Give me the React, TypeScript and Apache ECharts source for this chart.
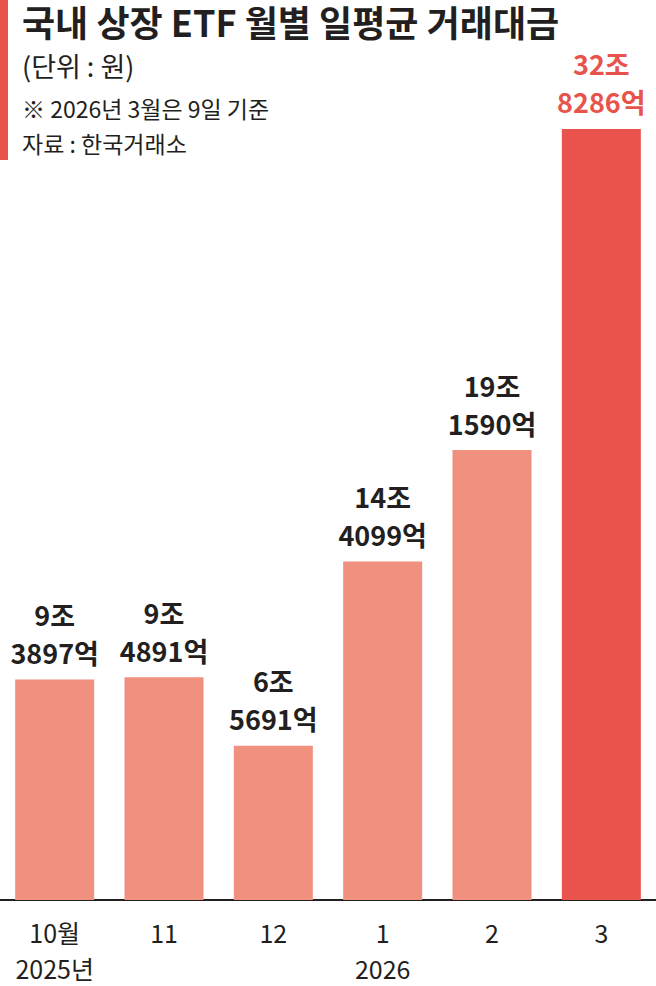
import React, { useEffect, useRef } from "react";
import * as echarts from "echarts";

const categories = ["10월\n2025년", "11", "12", "1\n2026", "2", "3"];
const joValues = [9, 9, 6, 14, 19, 32];
const eokValues = [3897, 4891, 5691, 4099, 1590, 8286];
const titleText = "국내 상장 ETF 월별 일평균 거래대금";
const unitText = "(단위 : 원)";
const noteText = "※ 2026년 3월은 9일 기준";
const sourceText = "자료 : 한국거래소";

const FONT = "'Noto Sans CJK KR', 'Noto Sans', sans-serif";
const LIGHT = "#F0907F";
const DARK = "#E8534B";

export default function App() {
  const ref = useRef<HTMLDivElement>(null);
  useEffect(() => {
    if (!ref.current) return;
    const chart = echarts.init(ref.current, undefined, { renderer: "svg" });
    const data = joValues.map((j, i) => {
      const last = i === joValues.length - 1;
      return {
        value: j + eokValues[i] / 10000,
        itemStyle: { color: last ? DARK : LIGHT },
        label: { color: last ? DARK : "#231f20" },
      };
    });
    chart.setOption({
      animation: false,
      textStyle: { fontFamily: FONT },
      grid: { left: 0, right: 0, top: 78, bottom: 81 },
      xAxis: {
        type: "category",
        data: categories,
        axisLine: { lineStyle: { color: "#231f20", width: 2 } },
        axisTick: { show: false },
        axisLabel: {
          fontSize: 25,
          color: "#231f20",
          lineHeight: 36,
          margin: 14,
          fontFamily: FONT,
          interval: 0,
        },
      },
      yAxis: {
        type: "value",
        min: 0,
        max: 35,
        show: false,
        splitLine: { show: false },
      },
      series: [
        {
          type: "bar",
          data,
          barWidth: 79,
          label: {
            show: true,
            position: "top",
            distance: 8,
            fontSize: 27,
            fontWeight: "bold",
            lineHeight: 38,
            fontFamily: FONT,
            formatter: (p: any) =>
              `${joValues[p.dataIndex]}조\n${eokValues[p.dataIndex]}억`,
          },
        },
      ],
      graphic: [
        {
          type: "rect",
          left: 0,
          top: 0,
          shape: { width: 8, height: 160 },
          style: { fill: DARK },
        },
        {
          type: "text",
          left: 22,
          top: 3,
          style: {
            text: titleText,
            font: `bold 36px ${FONT}`,
            fill: "#231f20",
          },
        },
        {
          type: "text",
          left: 22,
          top: 52,
          style: { text: unitText, font: `27px ${FONT}`, fill: "#231f20" },
        },
        {
          type: "text",
          left: 22,
          top: 96,
          style: { text: noteText, font: `23px ${FONT}`, fill: "#231f20" },
        },
        {
          type: "text",
          left: 22,
          top: 131,
          style: { text: sourceText, font: `23px ${FONT}`, fill: "#231f20" },
        },
      ],
    });
    return () => chart.dispose();
  }, []);
  return <div ref={ref} style={{ width: 656, height: 986, position: "absolute", left: 0, top: 0 }} />;
}
